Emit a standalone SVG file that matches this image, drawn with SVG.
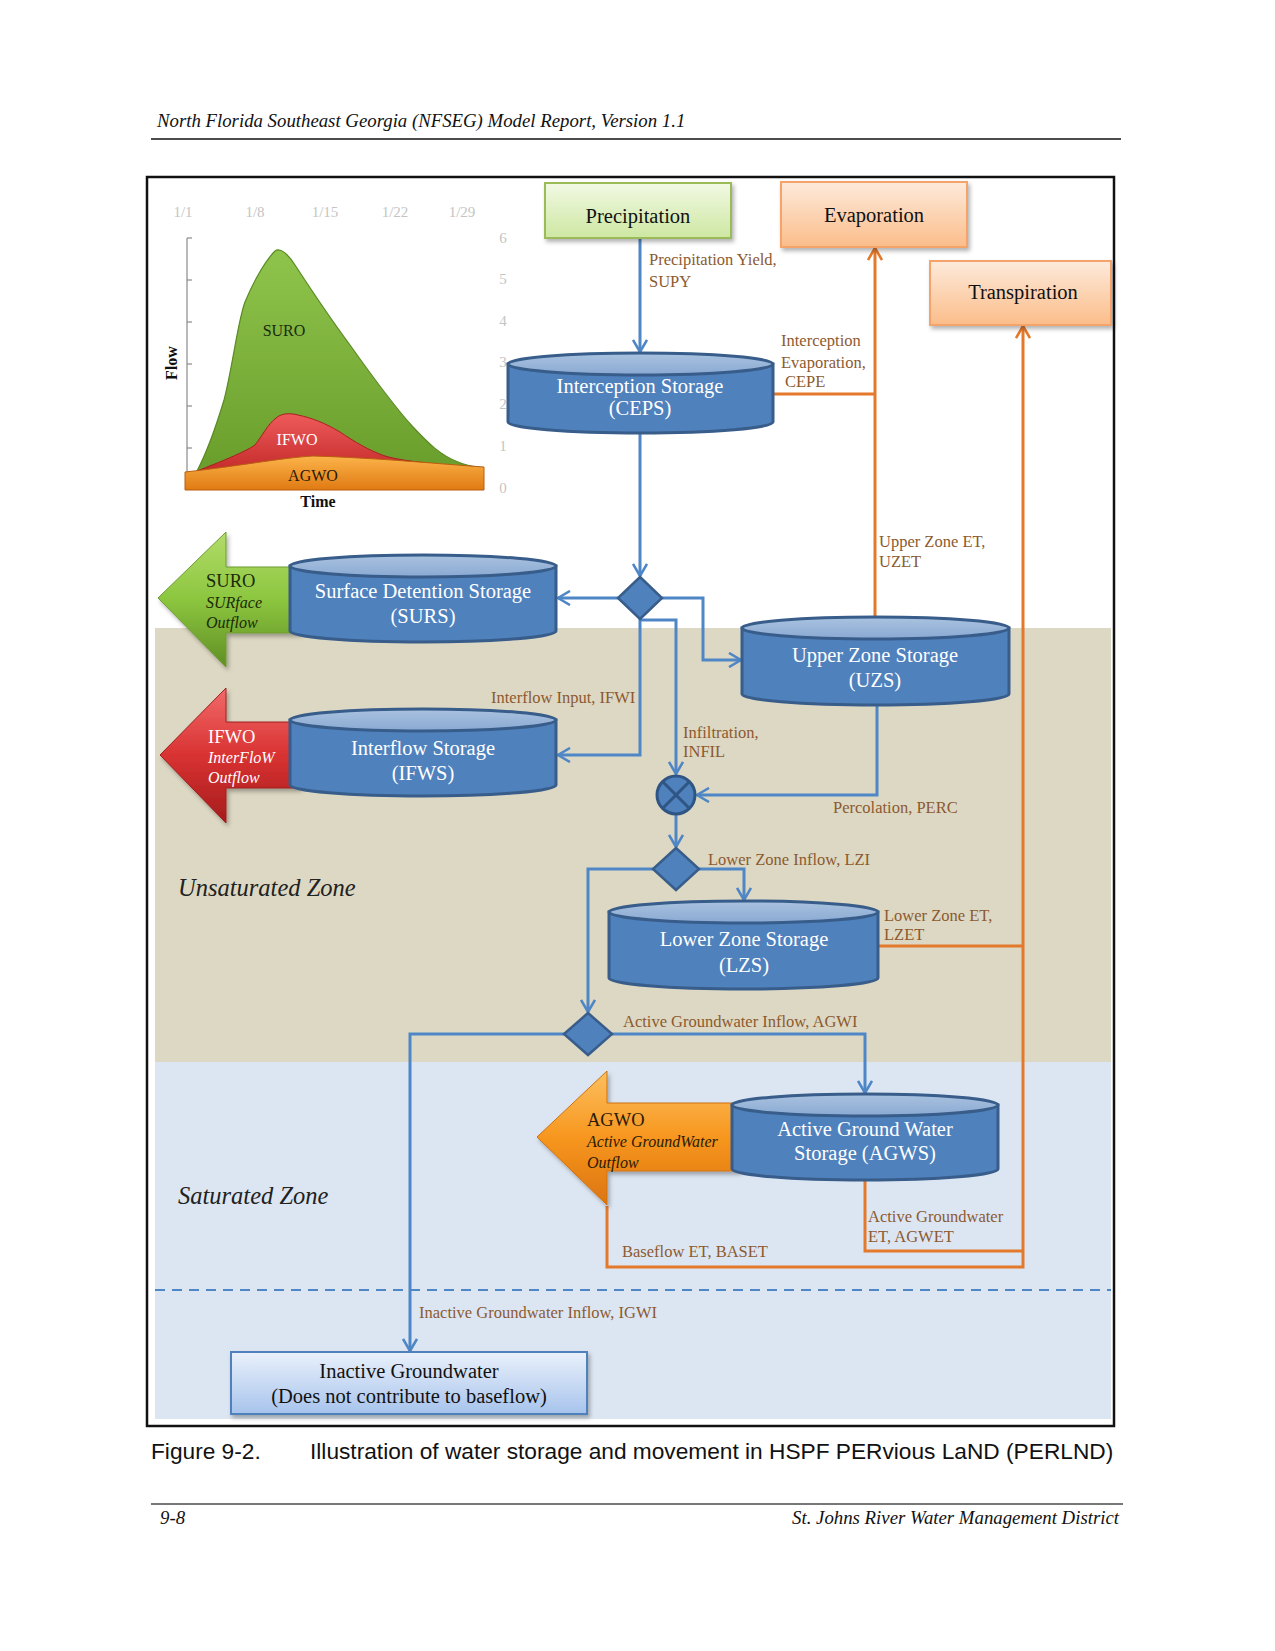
<svg xmlns="http://www.w3.org/2000/svg" width="1275" height="1651" viewBox="0 0 1275 1651">
<style>
.lbl{font-family:"Liberation Serif","Times New Roman",serif;font-size:16.5px;fill:#8c5a30}
.cyl{fill:#4f81bd;stroke:#385d8a;stroke-width:3}
.cyltop{fill:url(#gCylTop);stroke:#385d8a;stroke-width:3}
.ctext{font-family:"Liberation Serif","Times New Roman",serif;font-size:20.5px;fill:#ffffff;text-anchor:middle}
.btext{font-family:"Liberation Serif","Times New Roman",serif;font-size:20.5px;fill:#111111;text-anchor:middle}
.blue{fill:none;stroke:#4f86c6;stroke-width:3}
.orange{fill:none;stroke:#e4792b;stroke-width:3}
.zone{font-family:"Liberation Serif","Times New Roman",serif;font-style:italic;font-size:24.5px;fill:#222222}
.hdr{font-family:"Liberation Serif","Times New Roman",serif;font-style:italic;font-size:18.8px;fill:#111111}
.tick{font-family:"Liberation Serif","Times New Roman",serif;font-size:15px;fill:#c4c4c4}
.dia{fill:#4f81bd;stroke:#385d8a;stroke-width:2.5}
.atitle{font-family:"Liberation Serif","Times New Roman",serif;font-size:18.5px}
.asub{font-family:"Liberation Serif","Times New Roman",serif;font-style:italic;font-size:16px}
</style>
<defs>
<linearGradient id="gCylTop" x1="0" y1="0" x2="0" y2="1"><stop offset="0" stop-color="#a9c2e0"/><stop offset="1" stop-color="#8aa9d2"/></linearGradient>
<linearGradient id="gGreen" x1="0" y1="0" x2="0" y2="1"><stop offset="0" stop-color="#f2f9e4"/><stop offset="1" stop-color="#cde7a2"/></linearGradient>
<linearGradient id="gOrange" x1="0" y1="0" x2="0" y2="1"><stop offset="0" stop-color="#fdeadb"/><stop offset="1" stop-color="#fbbd8a"/></linearGradient>
<linearGradient id="gInactive" x1="0" y1="0" x2="0" y2="1"><stop offset="0" stop-color="#eaf1fb"/><stop offset="1" stop-color="#a7c3ec"/></linearGradient>
<linearGradient id="gSuro" x1="0" y1="0" x2="0" y2="1"><stop offset="0" stop-color="#b2dc6a"/><stop offset="0.5" stop-color="#8cc63f"/><stop offset="1" stop-color="#5f8f24"/></linearGradient>
<linearGradient id="gIfwo" x1="0" y1="0" x2="0" y2="1"><stop offset="0" stop-color="#f26a6a"/><stop offset="0.5" stop-color="#d93232"/><stop offset="1" stop-color="#a51c1c"/></linearGradient>
<linearGradient id="gAgwo" x1="0" y1="0" x2="0" y2="1"><stop offset="0" stop-color="#fcc060"/><stop offset="0.5" stop-color="#f7961e"/><stop offset="1" stop-color="#dc7410"/></linearGradient>
<linearGradient id="gChartG" x1="0" y1="0" x2="0" y2="1"><stop offset="0" stop-color="#8fc44c"/><stop offset="1" stop-color="#6a9e2c"/></linearGradient>
<linearGradient id="gChartR" x1="0" y1="0" x2="0" y2="1"><stop offset="0" stop-color="#ee5a5a"/><stop offset="1" stop-color="#c42a2a"/></linearGradient>
<linearGradient id="gChartO" x1="0" y1="0" x2="0" y2="1"><stop offset="0" stop-color="#fbb44a"/><stop offset="1" stop-color="#e07a12"/></linearGradient>
<filter id="shadow" x="-10%" y="-10%" width="130%" height="140%"><feDropShadow dx="2" dy="3" stdDeviation="2" flood-color="#000" flood-opacity="0.3"/></filter>
<marker id="aBlue" viewBox="0 0 16 16" refX="14" refY="8" markerWidth="16" markerHeight="16" markerUnits="userSpaceOnUse" orient="auto"><path d="M2,1 L14,8 L2,15" fill="none" stroke="#4f86c6" stroke-width="2.6"/></marker>
<marker id="aOrange" viewBox="0 0 16 16" refX="14" refY="8" markerWidth="16" markerHeight="16" markerUnits="userSpaceOnUse" orient="auto"><path d="M2,1 L14,8 L2,15" fill="none" stroke="#e4792b" stroke-width="2.6"/></marker>
</defs>

<rect width="1275" height="1651" fill="#ffffff"/>

<!-- page header / footer -->
<g id="page">
<text class="hdr" x="157" y="127">North Florida Southeast Georgia (NFSEG) Model Report, Version 1.1</text>
<line x1="151" y1="139" x2="1121" y2="139" stroke="#111" stroke-width="1.5"/>
<text x="151" y="1459" font-family="'Liberation Sans',Arial,sans-serif" font-size="22.7px" fill="#111">Figure 9-2.</text>
<text x="310" y="1459" font-family="'Liberation Sans',Arial,sans-serif" font-size="22.7px" fill="#111">Illustration of water storage and movement in HSPF PERvious LaND (PERLND)</text>
<line x1="151" y1="1504" x2="1123" y2="1504" stroke="#777" stroke-width="2"/>
<text class="hdr" x="160" y="1524">9-8</text>
<text class="hdr" x="1119" y="1524" text-anchor="end">St. Johns River Water Management District</text>
</g>

<!-- zones -->
<g id="zones">
<rect x="155" y="628" width="956" height="434" fill="#ddd8c3"/>
<rect x="155" y="1062" width="956" height="357" fill="#dce6f2"/>
<line x1="155" y1="1290" x2="1111" y2="1290" stroke="#4f86c6" stroke-width="2" stroke-dasharray="10,7"/>
<text class="zone" x="178" y="896">Unsaturated Zone</text>
<text class="zone" x="178" y="1204">Saturated Zone</text>
</g>

<!-- hydrograph chart -->
<g id="chart">
<text class="tick" x="183" y="217" text-anchor="middle">1/1</text>
<text class="tick" x="255" y="217" text-anchor="middle">1/8</text>
<text class="tick" x="325" y="217" text-anchor="middle">1/15</text>
<text class="tick" x="395" y="217" text-anchor="middle">1/22</text>
<text class="tick" x="462" y="217" text-anchor="middle">1/29</text>
<g class="tick" text-anchor="middle">
<text x="503" y="243">6</text><text x="503" y="284">5</text><text x="503" y="326">4</text><text x="503" y="367">3</text><text x="503" y="409">2</text><text x="503" y="451">1</text><text x="503" y="493">0</text>
</g>
<line x1="187" y1="238" x2="187" y2="490" stroke="#8a8a8a" stroke-width="1.2"/>
<g stroke="#8a8a8a" stroke-width="1.2">
<line x1="187" y1="238" x2="192" y2="238"/><line x1="187" y1="280" x2="192" y2="280"/><line x1="187" y1="322" x2="192" y2="322"/><line x1="187" y1="364" x2="192" y2="364"/><line x1="187" y1="406" x2="192" y2="406"/><line x1="187" y1="448" x2="192" y2="448"/>
</g>
<path d="M197,471 C208,450 218,420 224,400 C232,370 238,320 245,302 C252,285 264,262 275,251 C280,247 288,254 295,265 C310,288 330,318 350,345 C372,376 392,404 413,427 C428,443 440,455 458,462 C468,466 476,467 482,468 Z" fill="url(#gChartG)" stroke="#5a8a24" stroke-width="1.2"/>
<path d="M197,471 C220,462 245,452 255,445 C262,436 268,424 276,418 C282,413 290,413 298,415 C312,418 325,423 340,432 C355,442 368,450 385,456 C405,462 440,464 482,468 L482,472 L197,473 Z" fill="url(#gChartR)" stroke="#a82020" stroke-width="1"/>
<path d="M185,472 C240,466 280,458 313,456 C380,458 440,464 484,467 L484,490 L185,490 Z" fill="url(#gChartO)" stroke="#b85e10" stroke-width="1"/>
<text x="284" y="336" text-anchor="middle" font-family="'Liberation Serif',serif" font-size="16px" fill="#1c2a0c">SURO</text>
<text x="297" y="445" text-anchor="middle" font-family="'Liberation Serif',serif" font-size="16px" fill="#ffffff">IFWO</text>
<text x="313" y="481" text-anchor="middle" font-family="'Liberation Serif',serif" font-size="16px" fill="#2a1a08">AGWO</text>
<text x="0" y="0" transform="translate(177,363) rotate(-90)" text-anchor="middle" font-family="'Liberation Serif',serif" font-size="16px" font-weight="bold" fill="#111">Flow</text>
<text x="318" y="507" text-anchor="middle" font-family="'Liberation Serif',serif" font-size="16px" font-weight="bold" fill="#111">Time</text>
</g>

<!-- frame -->
<rect x="147" y="177" width="967" height="1249" fill="none" stroke="#111" stroke-width="2.5"/>

<!-- connectors -->
<g id="connectors">
<line class="blue" x1="640" y1="238" x2="640" y2="352" marker-end="url(#aBlue)"/>
<line class="blue" x1="640" y1="433" x2="640" y2="576" marker-end="url(#aBlue)"/>
<line class="blue" x1="618" y1="598" x2="558" y2="598" marker-end="url(#aBlue)"/>
<polyline class="blue" points="662,598 703,598 703,660 741,660" marker-end="url(#aBlue)"/>
<polyline class="blue" points="640,619 640,755 558,755" marker-end="url(#aBlue)"/>
<polyline class="blue" points="640,620 676,620 676,774" marker-end="url(#aBlue)"/>
<polyline class="blue" points="877,705 877,795 697,795" marker-end="url(#aBlue)"/>
<line class="blue" x1="676" y1="815" x2="676" y2="847" marker-end="url(#aBlue)"/>
<polyline class="blue" points="699,869 744,869 744,900" marker-end="url(#aBlue)"/>
<polyline class="blue" points="653,869 588,869 588,1012" marker-end="url(#aBlue)"/>
<polyline class="blue" points="612,1034 865,1034 865,1093" marker-end="url(#aBlue)"/>
<polyline class="blue" points="564,1034 410,1034 410,1351" marker-end="url(#aBlue)"/>

<line class="orange" x1="773" y1="394" x2="875" y2="394"/>
<line class="orange" x1="875" y1="617" x2="875" y2="248" marker-end="url(#aOrange)"/>
<line class="orange" x1="878" y1="946" x2="1023" y2="946"/>
<polyline class="orange" points="865,1180 865,1251 1023,1251"/>
<polyline class="orange" points="607,1206 607,1267 1023,1267 1023,326" marker-end="url(#aOrange)"/>

<text class="lbl" x="649" y="265">Precipitation Yield,</text>
<text class="lbl" x="649" y="287">SUPY</text>
<text class="lbl" x="781" y="346">Interception</text>
<text class="lbl" x="781" y="368">Evaporation,</text>
<text class="lbl" x="785" y="387">CEPE</text>
<text class="lbl" x="879" y="547">Upper Zone ET,</text>
<text class="lbl" x="879" y="567">UZET</text>
<text class="lbl" x="491" y="703">Interflow Input, IFWI</text>
<text class="lbl" x="683" y="738">Infiltration,</text>
<text class="lbl" x="683" y="757">INFIL</text>
<text class="lbl" x="833" y="813">Percolation, PERC</text>
<text class="lbl" x="708" y="865">Lower Zone Inflow, LZI</text>
<text class="lbl" x="884" y="921">Lower Zone ET,</text>
<text class="lbl" x="884" y="940">LZET</text>
<text class="lbl" x="623" y="1027">Active Groundwater Inflow, AGWI</text>
<text class="lbl" x="868" y="1222">Active Groundwater</text>
<text class="lbl" x="868" y="1242">ET, AGWET</text>
<text class="lbl" x="622" y="1257">Baseflow ET, BASET</text>
<text class="lbl" x="419" y="1318">Inactive Groundwater Inflow, IGWI</text>
</g>

<!-- boxes -->
<g id="precipitation">
<rect x="545" y="183" width="186" height="55" fill="url(#gGreen)" stroke="#9bbb59" stroke-width="2" filter="url(#shadow)"/>
<text class="btext" x="638" y="223">Precipitation</text>
</g>
<g id="evaporation">
<rect x="781" y="182" width="186" height="65" fill="url(#gOrange)" stroke="#f4a46a" stroke-width="2" filter="url(#shadow)"/>
<text class="btext" x="874" y="222">Evaporation</text>
</g>
<g id="transpiration">
<rect x="930" y="261" width="181" height="64" fill="url(#gOrange)" stroke="#f4a46a" stroke-width="2" filter="url(#shadow)"/>
<text class="btext" x="1023" y="299">Transpiration</text>
</g>

<!-- outflow arrows -->
<g id="suro">
<path d="M158,598 L226,532 L226,567 L300,567 L300,633 L226,633 L226,667 Z" fill="url(#gSuro)" stroke="#6f9a34" stroke-width="1" filter="url(#shadow)"/>
<text class="atitle" x="206" y="587" fill="#1a2a08">SURO</text>
<text class="asub" x="206" y="608" fill="#1a2a08">SURface</text>
<text class="asub" x="206" y="628" fill="#1a2a08">Outflow</text>
</g>
<g id="ifwo">
<path d="M160,755 L226,688 L226,722 L300,722 L300,788 L226,788 L226,823 Z" fill="url(#gIfwo)" stroke="#9e2020" stroke-width="1" filter="url(#shadow)"/>
<text class="atitle" x="208" y="743" fill="#ffffff">IFWO</text>
<text class="asub" x="208" y="763" fill="#ffffff">InterFloW</text>
<text class="asub" x="208" y="783" fill="#ffffff">Outflow</text>
</g>
<g id="agwo">
<path d="M537,1137 L607,1071 L607,1103 L740,1103 L740,1171 L607,1171 L607,1205 Z" fill="url(#gAgwo)" stroke="#d0700e" stroke-width="1" filter="url(#shadow)"/>
<text class="atitle" x="587" y="1126" font-size="20px" fill="#2a1a08">AGWO</text>
<text class="asub" x="587" y="1147" fill="#2a1a08">Active GroundWater</text>
<text class="asub" x="587" y="1168" fill="#2a1a08">Outflow</text>
</g>

<!-- storages -->
<g id="ceps">
<path class="cyl" d="M508,364 L508,422 A132.5,11 0 0 0 773,422 L773,364 Z"/>
<ellipse class="cyltop" cx="640.5" cy="364" rx="132.5" ry="11"/>
<text class="ctext" x="640" y="393">Interception Storage</text>
<text class="ctext" x="640" y="415">(CEPS)</text>
</g>
<g id="surs">
<path class="cyl" d="M290,566 L290,631 A133,11 0 0 0 556,631 L556,566 Z"/>
<ellipse class="cyltop" cx="423" cy="566" rx="133" ry="11"/>
<text class="ctext" x="423" y="598">Surface Detention Storage</text>
<text class="ctext" x="423" y="623">(SURS)</text>
</g>
<g id="ifws">
<path class="cyl" d="M290,720 L290,785 A133,11 0 0 0 556,785 L556,720 Z"/>
<ellipse class="cyltop" cx="423" cy="720" rx="133" ry="11"/>
<text class="ctext" x="423" y="755">Interflow Storage</text>
<text class="ctext" x="423" y="780">(IFWS)</text>
</g>
<g id="uzs">
<path class="cyl" d="M742,628 L742,694 A133.5,11 0 0 0 1009,694 L1009,628 Z"/>
<ellipse class="cyltop" cx="875.5" cy="628" rx="133.5" ry="11"/>
<text class="ctext" x="875" y="662">Upper Zone Storage</text>
<text class="ctext" x="875" y="687">(UZS)</text>
</g>
<g id="lzs">
<path class="cyl" d="M609,912 L609,978 A134.5,11 0 0 0 878,978 L878,912 Z"/>
<ellipse class="cyltop" cx="743.5" cy="912" rx="134.5" ry="11"/>
<text class="ctext" x="744" y="946">Lower Zone Storage</text>
<text class="ctext" x="744" y="972">(LZS)</text>
</g>
<g id="agws">
<path class="cyl" d="M732,1105 L732,1169 A133,11 0 0 0 998,1169 L998,1105 Z"/>
<ellipse class="cyltop" cx="865" cy="1105" rx="133" ry="11"/>
<text class="ctext" x="865" y="1136">Active Ground Water</text>
<text class="ctext" x="865" y="1160">Storage (AGWS)</text>
</g>

<!-- junctions -->
<g id="junction-surface"><polygon class="dia" points="640,577 662,598 640,619 618,598"/></g>
<g id="junction-mix">
<circle cx="676" cy="795" r="19" fill="#4f81bd" stroke="#2f5584" stroke-width="3"/>
<line x1="663" y1="782" x2="689" y2="808" stroke="#2f5584" stroke-width="3"/>
<line x1="689" y1="782" x2="663" y2="808" stroke="#2f5584" stroke-width="3"/>
</g>
<g id="junction-lzi"><polygon class="dia" points="676,848 699,869 676,890 653,869"/></g>
<g id="junction-agwi"><polygon class="dia" points="588,1013 612,1034 588,1055 564,1034"/></g>

<g id="inactive">
<rect x="231" y="1352" width="356" height="62" fill="url(#gInactive)" stroke="#4f81bd" stroke-width="2" filter="url(#shadow)"/>
<text class="btext" x="409" y="1378">Inactive Groundwater</text>
<text class="btext" x="409" y="1403">(Does not contribute to baseflow)</text>
</g>
</svg>
